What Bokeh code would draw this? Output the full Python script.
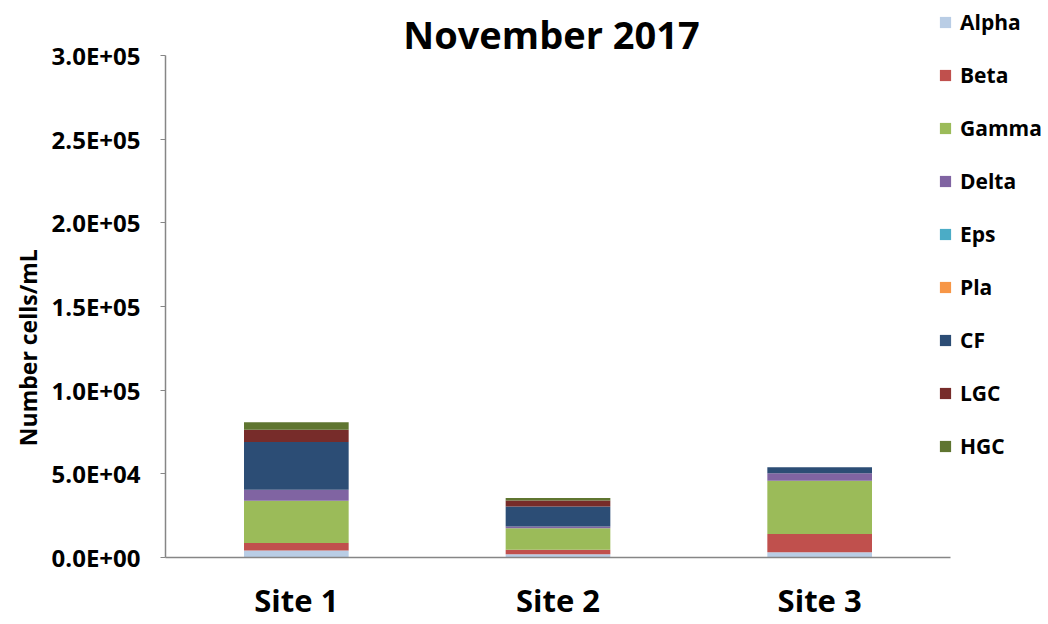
from bokeh.plotting import figure
from bokeh.models import (Range1d, FixedTicker, Legend, LegendItem, Label)
from bokeh.embed import file_html
from bokeh.resources import INLINE

sites = ["Site 1", "Site 2", "Site 3"]
cell_types = ["Alpha", "Beta", "Gamma", "Delta", "Eps", "Pla", "CF", "LGC", "HGC"]
alpha = [4200, 2000, 3200]
beta = [4400, 2600, 10800]
gamma = [25300, 12900, 31900]
delta = [6600, 1000, 4500]
eps = [0, 0, 0]
pla = [0, 0, 0]
cf = [28500, 12000, 3600]
lgc = [7400, 3600, 0]
hgc = [4500, 1400, 0]
colors = ["#B9CDE5", "#C0504D", "#9BBB59", "#8064A2", "#4BACC6",
          "#F79646", "#2C4D75", "#772C2A", "#5F7530"]
y_ticks = [0, 50000, 100000, 150000, 200000, 250000, 300000]
y_tick_labels = ["0.0E+00", "5.0E+04", "1.0E+05", "1.5E+05", "2.0E+05", "2.5E+05", "3.0E+05"]
title_text = "November 2017"
y_label_text = "Number cells/mL"

# category slots 0..3 on a numeric axis; each site sits at the middle of its slot
x_pos = [i + 0.5 for i in range(len(sites))]
data = {"x": x_pos, "Alpha": alpha, "Beta": beta, "Gamma": gamma, "Delta": delta,
        "Eps": eps, "Pla": pla, "CF": cf, "LGC": lgc, "HGC": hgc}

FONT = "Open Sans"
AXIS_GRAY = "#868686"

W, H = 1048, 624
LEFT, BOTTOM = 165, 67
AXIS_W, AXIS_H = 785, 502          # pixel size of the drawn axes
FRAME_W, FRAME_H = W - LEFT, H - BOTTOM
n = len(sites)
y_max = y_ticks[-1]

p = figure(width=W, height=H,
           x_range=Range1d(0, n * FRAME_W / AXIS_W),
           y_range=Range1d(0, y_max * FRAME_H / AXIS_H),
           output_backend="svg", toolbar_location=None,
           min_border_left=LEFT, min_border_right=0, min_border_top=0, min_border_bottom=BOTTOM)
p.title.visible = False
p.outline_line_color = None
p.xgrid.visible = False
p.ygrid.visible = False
p.background_fill_color = "white"
p.border_fill_color = "white"

renderers = p.vbar_stack(cell_types, x="x", width=0.4, source=data,
                         color=colors, line_color=None)

p.yaxis.bounds = (0, y_max)
p.yaxis.ticker = FixedTicker(ticks=y_ticks)
p.yaxis.major_label_overrides = {t: l for t, l in zip(y_ticks, y_tick_labels)}
p.yaxis.major_label_text_font = FONT
p.yaxis.major_label_text_font_style = "bold"
p.yaxis.major_label_text_font_size = "24px"
p.yaxis.major_label_text_color = "black"
p.yaxis.axis_line_color = AXIS_GRAY
p.yaxis.axis_line_width = 1.5
p.yaxis.major_tick_line_color = AXIS_GRAY
p.yaxis.major_tick_out = 5
p.yaxis.major_tick_in = 0
p.yaxis.minor_tick_line_color = None
p.yaxis.major_label_standoff = 20
# trailing no-break spaces shift the visible label down, as in the reference
p.yaxis.axis_label = y_label_text + "\u00a0" * 23
p.yaxis.axis_label_text_font = FONT
p.yaxis.axis_label_text_font_style = "bold"
p.yaxis.axis_label_text_font_size = "23px"
p.yaxis.axis_label_text_color = "black"
p.yaxis.axis_label_standoff = 5

p.xaxis.bounds = (0, n)
p.xaxis.ticker = FixedTicker(ticks=x_pos)
p.xaxis.major_label_overrides = {x: s for x, s in zip(x_pos, sites)}
p.xaxis.major_label_text_font = FONT
p.xaxis.major_label_text_font_style = "bold"
p.xaxis.major_label_text_font_size = "31px"
p.xaxis.major_label_text_color = "black"
p.xaxis.axis_line_color = AXIS_GRAY
p.xaxis.axis_line_width = 1.5
p.xaxis.major_tick_line_color = None
p.xaxis.minor_tick_line_color = None
p.xaxis.major_tick_out = 0
p.xaxis.major_tick_in = 0
p.xaxis.major_label_standoff = 21

legend = Legend(items=[LegendItem(label=nm, renderers=[r]) for nm, r in zip(cell_types, renderers)],
                location=(773, 97), orientation="vertical",
                label_text_font=FONT, label_text_font_style="bold", label_text_font_size="21px",
                label_text_color="black",
                glyph_width=14, glyph_height=14, label_standoff=8, spacing=25,
                padding=0, margin=0, border_line_alpha=0, background_fill_alpha=0)
p.add_layout(legend, "center")

p.add_layout(Label(x=386, y=FRAME_H - 33, x_units="screen", y_units="screen", text=title_text,
                   text_font=FONT, text_font_style="bold", text_font_size="38px",
                   text_color="black", text_align="center", text_baseline="middle"))

open("out.html", "w").write(file_html(p, INLINE))
